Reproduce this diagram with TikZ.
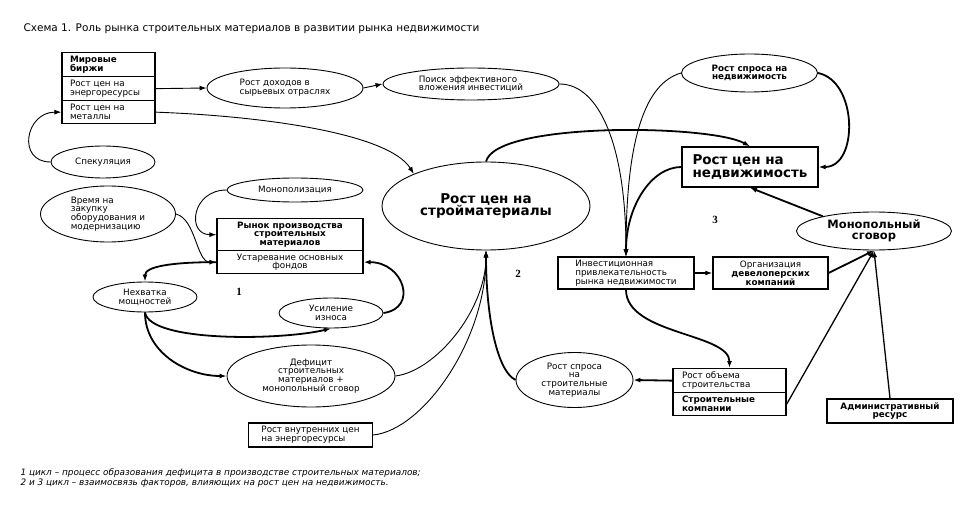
\documentclass[tikz,border=0pt]{standalone}
\usepackage{fontspec}
\setmainfont{DejaVu Sans}
\newfontfamily\numfont{Liberation Serif}
\usetikzlibrary{shapes.geometric, arrows.meta}

\newcommand\txtsmall{\fontsize{8.8}{8.8}\selectfont}
\newcommand\txtbold{\fontsize{8.8}{8.8}\selectfont\bfseries}
\newcommand\txtbig{\fontsize{13.5}{12.8}\selectfont\bfseries}
\newcommand\txtmid{\fontsize{11.5}{10.8}\selectfont\bfseries}

\begin{document}
\begin{tikzpicture}[x=1pt, y=-1pt,
    oval/.style={draw, ellipse, line width=0.9pt, inner sep=0pt, align=center, font=\txtsmall},
    box/.style={draw, rectangle, line width=1.3pt, inner xsep=4pt, inner ysep=0pt, align=center, font=\txtsmall},
    part/.style={box, anchor=north, align=left},
    fine/.style={line width=0.9pt},
    heavy/.style={line width=1.8pt},
    toarrow/.style={-{Latex[length=7pt,width=5pt]}}]
  \useasboundingbox (0,0) rectangle (968,521);

  \node[anchor=west, font=\fontsize{10.5}{12}\selectfont] (title) at (20,29)
    {Схема 1. Роль рынка строительных материалов в развитии рынка недвижимости};

  % left part
  \node[part, font=\txtbold, inner xsep=8pt, text width=77pt, minimum height=24pt] (birzhi) at (108.5,52) {Мировые\\биржи};
  \node[part, inner xsep=8pt, text width=77pt, minimum height=24pt] (energo) at (108.5,76) {Рост цен на\\энергоресурсы};
  \node[part, inner xsep=8pt, text width=77pt, minimum height=23pt] (metally) at (108.5,100) {Рост цен на\\металлы};

  \node[oval, align=left, minimum width=156pt, minimum height=40pt] (dohody) at (285,88) {Рост доходов в\\сырьевых отраслях};
  \node[oval, align=left, minimum width=176pt, minimum height=32pt] (poisk) at (471,84) {Поиск эффективного\\вложения инвестиций};
  \node[oval, minimum width=104pt, minimum height=32pt] (spek) at (103,162) {Спекуляция};
  \node[oval, minimum width=136pt, minimum height=24pt] (monop) at (295,190) {Монополизация};
  \node[oval, align=left, minimum width=135pt, minimum height=56pt] (vremya) at (108,214) {Время на\\закупку\\оборудования и\\модернизацию};

  \node[part, font=\txtbold, minimum width=146pt, minimum height=32pt, align=center] (rynok) at (290,218) {Рынок производства\\строительных\\материалов};
  \node[part, minimum width=146pt, minimum height=23pt, align=center] (ustar) at (290,250) {Устаревание основных\\фондов};

  \node[oval, minimum width=104pt, minimum height=30pt] (nehv) at (145,297) {Нехватка\\мощностей};
  \node[oval, minimum width=104pt, minimum height=30pt] (usil) at (331,313) {Усиление\\износа};
  \node[oval, minimum width=168pt, minimum height=62pt] (deficit) at (311,376) {Дефицит\\строительных\\материалов +\\монопольный сговор};
  \node[box, align=left, minimum width=124pt, minimum height=24pt] (vnutr) at (310.5,435) {Рост внутренних цен\\на энергоресурсы};

  % centre and right part
  \node[oval, font=\txtbig, minimum width=208pt, minimum height=88pt] (stroym) at (486,206) {Рост цен на\\стройматериалы};
  \node[oval, font=\txtbold, minimum width=136pt, minimum height=38pt] (rsn) at (749.5,73) {Рост спроса на\\недвижимость};
  \node[box, font=\txtbig, align=left, minimum width=136pt, minimum height=40pt] (rcn) at (750,167) {Рост цен на\\недвижимость};
  \node[oval, font=\txtmid, minimum width=155pt, minimum height=38pt] (sgovor) at (874,231) {Монопольный\\сговор};
  \node[box, align=left, minimum width=136pt, minimum height=32pt] (invest) at (626,273) {Инвестиционная\\привлекательность\\рынка недвижимости};
  \node[box, minimum width=115pt, minimum height=32pt] (org) at (770.5,273) {Организация\\{\bfseries девелоперских}\\{\bfseries компаний}};
  \node[part, inner xsep=9pt, text width=95pt, minimum height=24pt] (obem) at (729.5,368) {Рост объема\\строительства};
  \node[part, font=\txtbold, inner xsep=9pt, text width=95pt, minimum height=23pt] (stroyk) at (729.5,392) {Строительные\\компании};
  \node[oval, minimum width=117pt, minimum height=55pt] (rss) at (574.5,380) {Рост спроса\\на\\строительные\\материалы};
  \node[box, font=\txtbold, minimum width=126pt, minimum height=24pt] (admin) at (890,411) {Административный\\ресурс};

  \node[font=\numfont\bfseries\fontsize{11}{12}\selectfont] (n1) at (239,292) {1};
  \node[font=\numfont\bfseries\fontsize{11}{12}\selectfont] (n2) at (518,274) {2};
  \node[font=\numfont\bfseries\fontsize{11}{12}\selectfont] (n3) at (715,220) {3};

  \node[anchor=west, align=left, font=\fontsize{8.9}{10.7}\selectfont\itshape] (note) at (17,478)
    {1 цикл – процесс образования дефицита в производстве строительных материалов;\\
     2 и 3 цикл – взаимосвязь факторов, влияющих на рост цен на недвижимость.};

  % connectors
  \draw[fine, toarrow] (spek.west) .. controls +(-34,0) and +(-36,0) .. (metally.west);
  \draw[fine, toarrow] (energo.east) -- (dohody.west);
  \draw[fine, toarrow] (dohody.east) -- (poisk.west);
  \draw[fine, toarrow] (metally.east) .. controls +(110,4) and +(-25,-40) .. (stroym.156);
  \draw[fine, toarrow] (poisk.east) .. controls +(40,0) and +(0,-110) .. (invest.north);
  \draw[fine, toarrow] (rsn.west) .. controls +(-35,10) and +(0,-120) .. (invest.north);
  \draw[heavy, toarrow] (rcn.west) .. controls +(-30,0) and +(0,-50) .. (invest.north);
  \draw[heavy, toarrow] (rsn.east) .. controls +(40,8) and +(40,0) .. (rcn.east);
  \draw[heavy, toarrow] (stroym.north) .. controls +(10,-40) and +(-40,-22) .. (rcn.north);
  \draw[heavy, toarrow] (invest.east) -- (org.west);
  \draw[heavy, toarrow] (org.east) -- (sgovor.south);
  \draw[line width=1.3pt, toarrow] (stroyk.east) -- (sgovor.south);
  \draw[line width=1.3pt, toarrow] (admin.north) -- (sgovor.south);
  \draw[heavy, toarrow] (sgovor.164) -- (rcn.south);
  \draw[heavy, toarrow] (invest.south) .. controls +(0,45) and +(0,-35) .. (obem.north);
  \draw[heavy, toarrow] (obem.west) -- (rss.east);
  \draw[heavy, toarrow] (rss.west) .. controls +(-20,-10) and +(0,60) .. (stroym.south);
  \draw[fine, toarrow] (deficit.east) .. controls +(40,-5) and +(0,60) .. (stroym.south);
  \draw[fine, toarrow] (vnutr.east) .. controls +(50,-5) and +(0,90) .. (stroym.south);
  \draw[fine, toarrow] (monop.west) .. controls +(-35,0) and +(-30,0) .. (rynok.west);
  \draw[fine, toarrow] (vremya.east) .. controls +(20,5) and +(-20,0) .. (ustar.west);
  \draw[heavy, toarrow] (usil.east) .. controls +(35,-5) and +(40,0) .. (ustar.east);
  \draw[heavy, toarrow] (ustar.west) .. controls +(-45,0) and +(0,-15) .. (nehv.north);
  \draw[heavy, toarrow] (nehv.south) .. controls +(5,30) and +(-50,12) .. (usil.south);
  \draw[heavy, toarrow] (nehv.south) .. controls +(0,40) and +(-40,0) .. (deficit.west);
\end{tikzpicture}
\end{document}
